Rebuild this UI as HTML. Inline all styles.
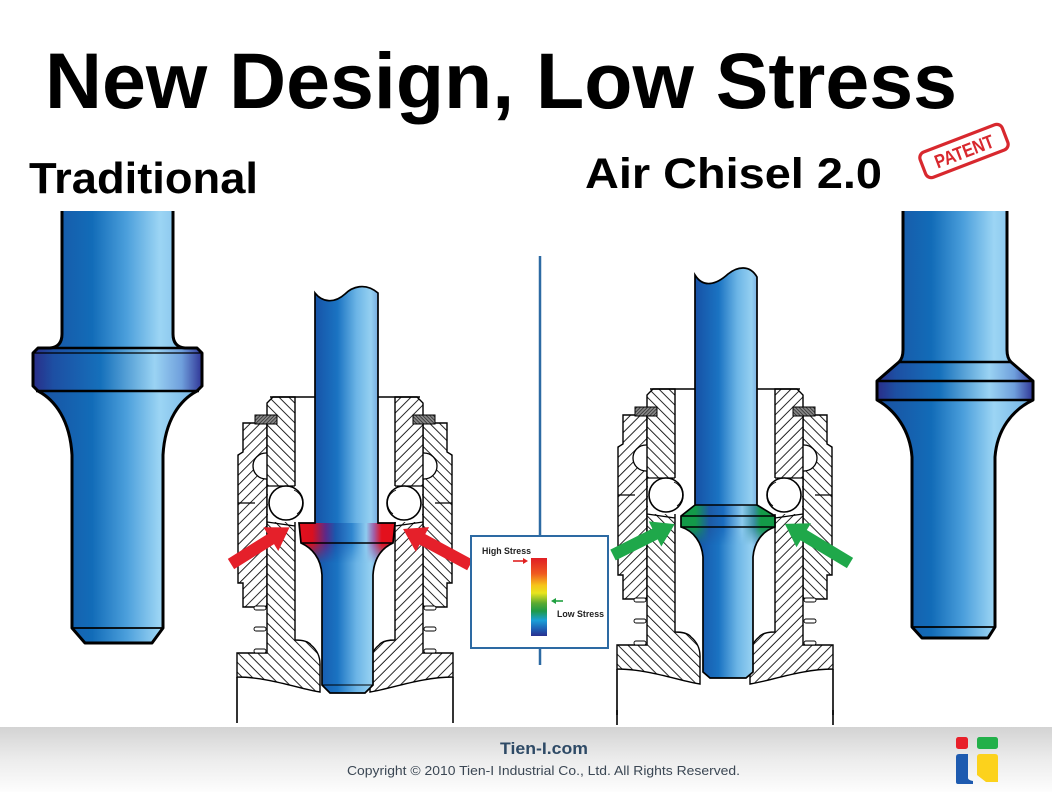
<!DOCTYPE html>
<html><head><meta charset="utf-8"><style>
html,body{margin:0;padding:0;background:#fff;}
svg{display:block;}
</style></head><body>
<svg width="1052" height="792" viewBox="0 0 1052 792" xmlns="http://www.w3.org/2000/svg">
<defs>
 <linearGradient id="foot" x1="0" y1="0" x2="0" y2="1">
  <stop offset="0" stop-color="#d3d3d3"/><stop offset="0.5" stop-color="#ececec"/><stop offset="1" stop-color="#fdfdfd"/>
 </linearGradient>
 <linearGradient id="gBig" x1="0" y1="0" x2="1" y2="0">
  <stop offset="0" stop-color="#1b4f9f"/>
  <stop offset="0.35" stop-color="#126cb8"/>
  <stop offset="0.55" stop-color="#4a9edb"/>
  <stop offset="0.75" stop-color="#9cd5f4"/>
  <stop offset="1" stop-color="#6fb0e3"/>
 </linearGradient>
 <linearGradient id="gCol" x1="0" y1="0" x2="1" y2="0">
  <stop offset="0" stop-color="#2a2d88"/>
  <stop offset="0.12" stop-color="#1d4fa3"/>
  <stop offset="0.4" stop-color="#1570bb"/>
  <stop offset="0.72" stop-color="#9ad3f3"/>
  <stop offset="0.88" stop-color="#6f9fdc"/>
  <stop offset="1" stop-color="#2f3596"/>
 </linearGradient>
 <linearGradient id="gShaft" x1="0" y1="0" x2="1" y2="0">
  <stop offset="0" stop-color="#233d96"/>
  <stop offset="0.2" stop-color="#1758ab"/>
  <stop offset="0.4" stop-color="#1a73c2"/>
  <stop offset="0.6" stop-color="#6cb5e6"/>
  <stop offset="0.75" stop-color="#95d0f1"/>
  <stop offset="0.88" stop-color="#5f8fd0"/>
  <stop offset="1" stop-color="#2a3a94"/>
 </linearGradient>
 <linearGradient id="gRed" x1="0" y1="0" x2="1" y2="0">
  <stop offset="0" stop-color="#e3101d"/>
  <stop offset="0.14" stop-color="#d9101f"/>
  <stop offset="0.28" stop-color="#5a2a8a"/>
  <stop offset="0.38" stop-color="#1a58ad"/>
  <stop offset="0.55" stop-color="#2f86cf"/>
  <stop offset="0.7" stop-color="#8ecbef"/>
  <stop offset="0.78" stop-color="#a060a8"/>
  <stop offset="0.86" stop-color="#e3101d"/>
  <stop offset="1" stop-color="#e3101d"/>
 </linearGradient>
 <linearGradient id="gGreen" x1="0" y1="0" x2="1" y2="0">
  <stop offset="0" stop-color="#139a48"/>
  <stop offset="0.15" stop-color="#139a48"/>
  <stop offset="0.3" stop-color="#1d5aa5"/>
  <stop offset="0.45" stop-color="#1a6cbf"/>
  <stop offset="0.65" stop-color="#8ccaee"/>
  <stop offset="0.78" stop-color="#3a8fa0"/>
  <stop offset="0.85" stop-color="#139a48"/>
  <stop offset="1" stop-color="#139a48"/>
 </linearGradient>
 <linearGradient id="gBar" x1="0" y1="0" x2="0" y2="1">
  <stop offset="0" stop-color="#e01e24"/>
  <stop offset="0.2" stop-color="#ef5a20"/>
  <stop offset="0.35" stop-color="#f6c419"/>
  <stop offset="0.45" stop-color="#e8e41e"/>
  <stop offset="0.58" stop-color="#5aaa32"/>
  <stop offset="0.68" stop-color="#1e9a48"/>
  <stop offset="0.8" stop-color="#1aa0d8"/>
  <stop offset="0.92" stop-color="#1e5ab0"/>
  <stop offset="1" stop-color="#2a2f8f"/>
 </linearGradient>
 <linearGradient id="fadeV" x1="0" y1="0" x2="0" y2="1">
  <stop offset="0" stop-color="#fff"/><stop offset="1" stop-color="#000"/>
 </linearGradient>
 <mask id="mRed" maskUnits="userSpaceOnUse" x="280" y="510" width="130" height="80">
  <rect x="280" y="510" width="130" height="33" fill="#fff"/>
  <rect x="280" y="543" width="130" height="20" fill="url(#fadeV)"/>
 </mask>
 <mask id="mGreen" maskUnits="userSpaceOnUse" x="670" y="495" width="120" height="80">
  <rect x="670" y="495" width="120" height="32" fill="#fff"/>
  <rect x="670" y="527" width="120" height="18" fill="url(#fadeV)"/>
 </mask>
 <pattern id="h1" width="7" height="7" patternUnits="userSpaceOnUse" patternTransform="rotate(-45)">
  <rect width="7" height="7" fill="#fff"/><line x1="0" y1="0" x2="0" y2="7" stroke="#000" stroke-width="1.7"/>
 </pattern>
 <pattern id="h2" width="7" height="7" patternUnits="userSpaceOnUse" patternTransform="rotate(45)">
  <rect width="7" height="7" fill="#fff"/><line x1="0" y1="0" x2="0" y2="7" stroke="#000" stroke-width="1.7"/>
 </pattern>
 <pattern id="h3" width="2.5" height="2.5" patternUnits="userSpaceOnUse" patternTransform="rotate(45)">
  <rect width="2.5" height="2.5" fill="#888"/><line x1="0" y1="0" x2="0" y2="2.5" stroke="#111" stroke-width="1.2"/>
 </pattern>

 <g id="hl">
  <path d="M243,423 H267 V607 H243 V583 H238 V455 L243,452 Z" fill="url(#h2)" stroke="#000" stroke-width="1.4"/>
  <line x1="238" y1="503" x2="255" y2="503" stroke="#000" stroke-width="1.3"/>
  <circle cx="266" cy="466" r="13" fill="#fff" stroke="#000" stroke-width="1.3"/>
  <path d="M273,397 H295 V640 C302,640 308,641 311,645 C317,650 320,656 320,664 V692 C300,689 268,677 237,677 V653 H267 V403 Z" fill="url(#h1)" stroke="#000" stroke-width="1.4"/>
  <rect x="268" y="486" width="30" height="36" fill="#fff"/>
  <path d="M267,486 H295 M267,522 L295,526" stroke="#000" stroke-width="1.3"/>
  <circle cx="286" cy="503" r="17" fill="#fff" stroke="#000" stroke-width="1.6"/>
  <path d="M294,490 A14,14 0 0 1 297,514" fill="none" stroke="#000" stroke-width="0.8"/>
  <rect x="255" y="415" width="22" height="9" fill="url(#h3)" stroke="#000" stroke-width="1"/>
  <rect x="254" y="606" width="12" height="4" rx="2" fill="#fff" stroke="#000" stroke-width="0.9"/>
  <rect x="254" y="627" width="12" height="4" rx="2" fill="#fff" stroke="#000" stroke-width="0.9"/>
  <rect x="254" y="649" width="12" height="4" rx="2" fill="#fff" stroke="#000" stroke-width="0.9"/>
 </g>
 <g id="asm">
  <use href="#hl"/>
  <use href="#hl" transform="translate(690,0) scale(-1,1)"/>
  <line x1="270" y1="397" x2="420" y2="397" stroke="#000" stroke-width="1.4"/>
  <line x1="237" y1="677" x2="237" y2="723" stroke="#000" stroke-width="1.6"/>
  <line x1="453" y1="677" x2="453" y2="723" stroke="#000" stroke-width="1.6"/>
 </g>
</defs>

<rect width="1052" height="792" fill="#fff"/>

<!-- Title -->
<text x="45" y="108" font-family="Liberation Sans, Arial, sans-serif" font-weight="bold" font-size="79" fill="#000" textLength="912" lengthAdjust="spacingAndGlyphs">New Design, Low Stress</text>
<text x="29" y="193" font-family="Liberation Sans, Arial, sans-serif" font-weight="bold" font-size="44" fill="#000" textLength="229" lengthAdjust="spacingAndGlyphs">Traditional</text>
<text x="585" y="188" font-family="Liberation Sans, Arial, sans-serif" font-weight="bold" font-size="43" fill="#000" textLength="297" lengthAdjust="spacingAndGlyphs">Air Chisel 2.0</text>

<!-- Patent stamp -->
<g transform="translate(964,151) rotate(-21)">
 <rect x="-44" y="-13.5" width="88" height="27" rx="6" fill="none" stroke="#d8282e" stroke-width="3.2"/>
 <text x="0" y="7" text-anchor="middle" font-family="Liberation Sans, Arial, sans-serif" font-weight="bold" font-size="19" fill="#d8282e" textLength="62" lengthAdjust="spacingAndGlyphs">PATENT</text>
</g>

<!-- Big left chisel -->
<path d="M62,211 V334 Q62,347 50,348 H38 L33,353 V386 L38,391 C55,400 70,420 72,455 V628 L85,643 H152 L163,628 V455 C165,420 180,400 197,391 L202,386 V353 L197,348 H185 Q173,347 173,334 V211 Z" fill="url(#gBig)"/>
<path d="M38,348 H197 L202,353 V386 L197,391 H38 L33,386 V353 Z" fill="url(#gCol)"/>
<path d="M62,211 V334 Q62,347 50,348 H38 L33,353 V386 L38,391 C55,400 70,420 72,455 V628 L85,643 H152 L163,628 V455 C165,420 180,400 197,391 L202,386 V353 L197,348 H185 Q173,347 173,334 V211" fill="none" stroke="#000" stroke-width="3" stroke-linejoin="round"/>
<line x1="38" y1="348" x2="197" y2="348" stroke="#000" stroke-width="2.5"/>
<line x1="34" y1="353" x2="201" y2="353" stroke="#000" stroke-width="1.2"/>
<line x1="36" y1="391" x2="199" y2="391" stroke="#000" stroke-width="2.5"/>
<line x1="72" y1="628" x2="163" y2="628" stroke="#000" stroke-width="1.8"/>

<!-- Big right chisel -->
<path d="M903,211 V350 Q903,358 899,362 L877,381 V400 C895,410 910,430 912,457 V627 L922,638 H988 L995,627 V457 C997,430 1012,410 1033,400 V381 L1011,362 Q1007,358 1007,350 V211 Z" fill="url(#gBig)"/>
<path d="M899,362 H1011 L1033,381 V400 H877 V381 Z" fill="url(#gCol)"/>
<path d="M903,211 V350 Q903,358 899,362 L877,381 V400 C895,410 910,430 912,457 V627 L922,638 H988 L995,627 V457 C997,430 1012,410 1033,400 V381 L1011,362 Q1007,358 1007,350 V211" fill="none" stroke="#000" stroke-width="3" stroke-linejoin="round"/>
<line x1="899" y1="362" x2="1011" y2="362" stroke="#000" stroke-width="2.5"/>
<line x1="877" y1="381" x2="1033" y2="381" stroke="#000" stroke-width="2.5"/>
<line x1="877" y1="400" x2="1033" y2="400" stroke="#000" stroke-width="2.5"/>
<line x1="912" y1="627" x2="995" y2="627" stroke="#000" stroke-width="1.8"/>

<!-- Divider -->
<line x1="540" y1="256" x2="540" y2="665" stroke="#2d6aa3" stroke-width="2.5"/>

<!-- Left assembly -->
<use href="#asm"/>
<!-- Left cross-section chisel -->
<path d="M315,293 C322,302 334,304 345,294 C352,287 365,282 378,293 V523 H395 L393,543 C382,548 374,558 373,575 V685 L365,693 H330 L322,685 V575 C321,558 312,548 301,543 L299,523 H315 Z" fill="url(#gShaft)"/>
<path d="M299,523 H395 L393,543 C382,548 374,558 373,575 H322 C321,558 312,548 301,543 Z" fill="url(#gRed)" mask="url(#mRed)"/>
<path d="M315,293 C322,302 334,304 345,294 C352,287 365,282 378,293 V523 H395 L393,543 C382,548 374,558 373,575 V685 L365,693 H330 L322,685 V575 C321,558 312,548 301,543 L299,523 H315 Z" fill="none" stroke="#000" stroke-width="1.7"/>
<line x1="301" y1="543" x2="393" y2="543" stroke="#000" stroke-width="1.5"/>
<line x1="322" y1="685" x2="373" y2="685" stroke="#000" stroke-width="1"/>

<!-- Right assembly -->
<use href="#asm" transform="translate(380,-8)"/>
<line x1="617" y1="710" x2="617" y2="725" stroke="#000" stroke-width="1.6"/>
<line x1="833" y1="710" x2="833" y2="725" stroke="#000" stroke-width="1.6"/>
<!-- Right cross-section chisel -->
<path d="M695,275 C703,288 716,285 728,274 C738,266 750,265 757,277 V505 L775,516 V527 C762,531 754,543 753,557 V672 L746,678 H710 L703,672 V557 C702,543 694,531 681,527 V516 L695,505 Z" fill="url(#gShaft)"/>
<path d="M695,505 H757 L775,516 V527 C762,531 754,543 753,557 H703 C702,543 694,531 681,527 V516 Z" fill="url(#gGreen)" mask="url(#mGreen)"/>
<path d="M695,275 C703,288 716,285 728,274 C738,266 750,265 757,277 V505 L775,516 V527 C762,531 754,543 753,557 V672 L746,678 H710 L703,672 V557 C702,543 694,531 681,527 V516 L695,505 Z" fill="none" stroke="#000" stroke-width="1.7"/>
<line x1="695" y1="505" x2="757" y2="505" stroke="#000" stroke-width="1.5"/>
<line x1="681" y1="516" x2="775" y2="516" stroke="#000" stroke-width="1.5"/>
<line x1="681" y1="527" x2="775" y2="527" stroke="#000" stroke-width="1.5"/>

<!-- Arrows -->
<polygon transform="translate(231,564) rotate(-32)" points="0,-6 47,-6 47,-14 69,0 47,14 47,6 0,6" fill="#e5202a"/>
<polygon transform="translate(470,565) rotate(-151.7)" points="0,-6 54,-6 54,-14 76,0 54,14 54,6 0,6" fill="#e5202a"/>
<polygon transform="translate(613,555) rotate(-26.6)" points="0,-6 47,-6 47,-14 69,0 47,14 47,6 0,6" fill="#1fa84a"/>
<polygon transform="translate(850,563) rotate(-149)" points="0,-6 54,-6 54,-14 76,0 54,14 54,6 0,6" fill="#1fa84a"/>

<!-- Legend -->
<rect x="471" y="536" width="137" height="112" fill="#fff" stroke="#2d6aa3" stroke-width="2"/>
<text x="482" y="554" font-family="Liberation Sans, Arial, sans-serif" font-weight="bold" font-size="8.8" fill="#222" textLength="49" lengthAdjust="spacingAndGlyphs">High Stress</text>
<line x1="513" y1="561" x2="524" y2="561" stroke="#e02020" stroke-width="1.6"/>
<polygon points="523,558 528,561 523,564" fill="#e02020"/>
<rect x="531" y="558" width="16" height="78" fill="url(#gBar)"/>
<line x1="555" y1="601" x2="563" y2="601" stroke="#20a040" stroke-width="1.6"/>
<polygon points="551,601 556,598 556,604" fill="#20a040"/>
<text x="557" y="617" font-family="Liberation Sans, Arial, sans-serif" font-weight="bold" font-size="8.8" fill="#222" textLength="47" lengthAdjust="spacingAndGlyphs">Low Stress</text>

<!-- Footer -->
<rect x="0" y="727" width="1052" height="65" fill="url(#foot)"/>
<text x="544" y="754" text-anchor="middle" font-family="Liberation Sans, Arial, sans-serif" font-weight="bold" font-size="16.5" fill="#2e4a66" textLength="88" lengthAdjust="spacingAndGlyphs">Tien-I.com</text>
<text x="347" y="775" font-family="Liberation Sans, Arial, sans-serif" font-size="12.5" fill="#3b4754" textLength="393" lengthAdjust="spacingAndGlyphs">Copyright © 2010 Tien-I Industrial Co., Ltd. All Rights Reserved.</text>
<rect x="956" y="737" width="12" height="12" rx="2.5" fill="#e8202a"/>
<rect x="977" y="737" width="21" height="12" rx="2.5" fill="#22b04a"/>
<path d="M956,757 Q956,754 959,754 H968 V778 Q968,780 973,781 V784 H958 Q956,784 956,782 Z" fill="#1e5bb0"/>
<path d="M980,754 H995 Q998,754 998,757 V782 H986 L977,775 V757 Q977,754 980,754 Z" fill="#fcd21c"/>
</svg>
</body></html>
